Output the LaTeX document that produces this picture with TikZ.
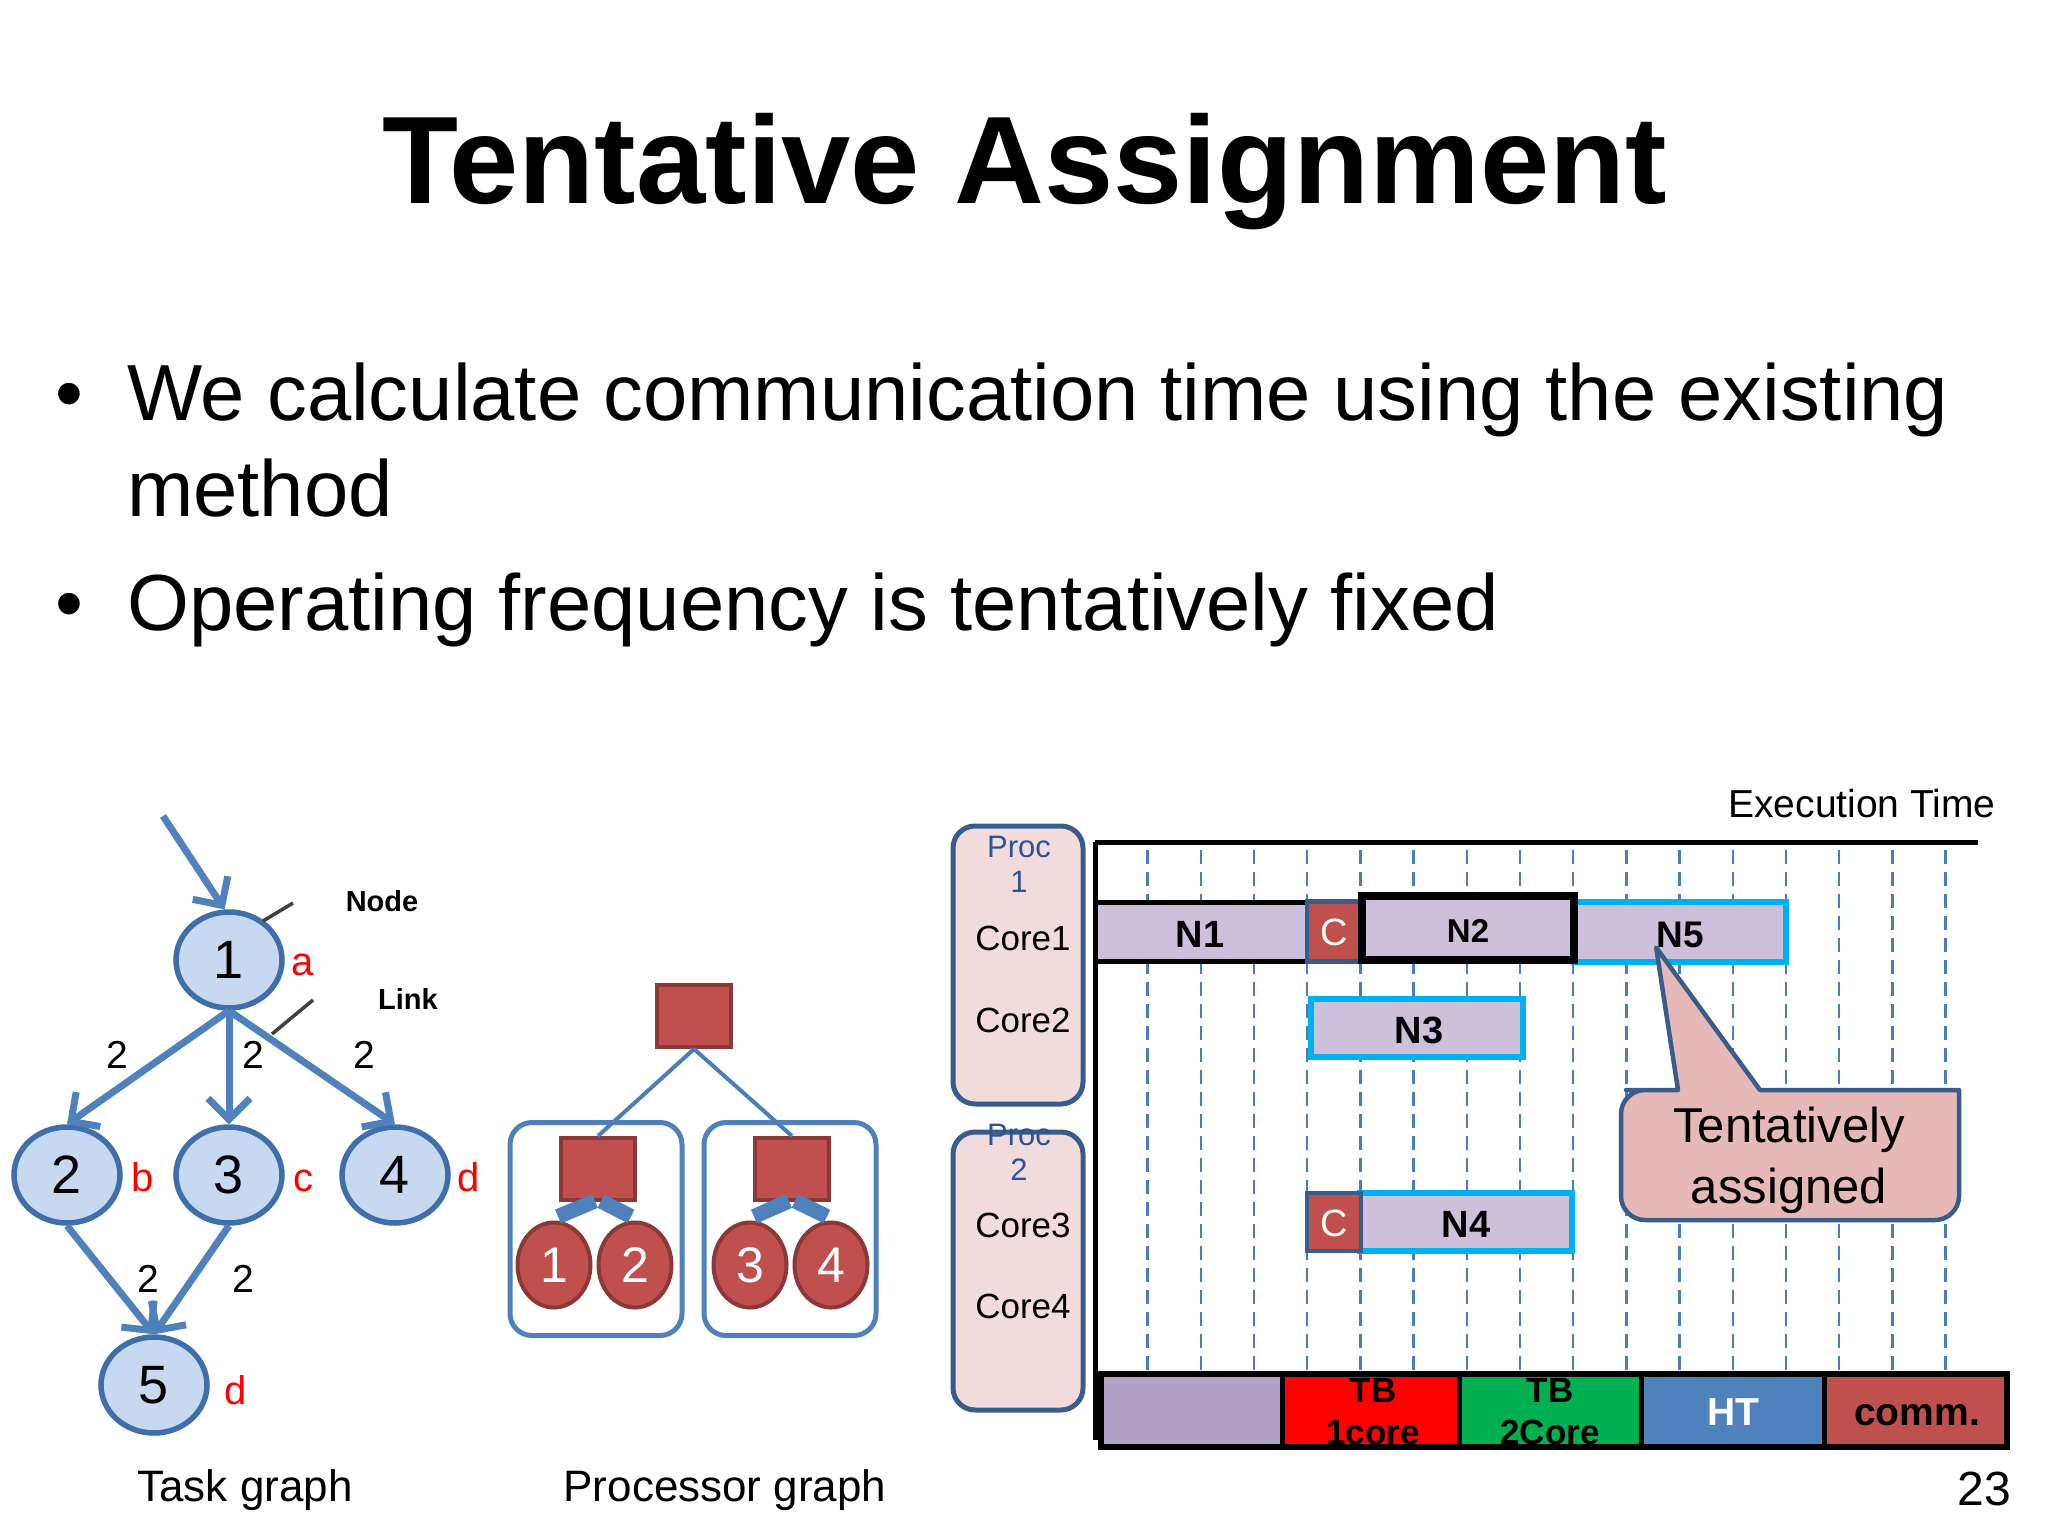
\documentclass[tikz,border=0pt]{standalone}
\usepackage{fontspec}
\setmainfont{Liberation Sans}
\usetikzlibrary{arrows.meta,shapes.geometric}
\definecolor{nodefill}{HTML}{C6D9F1}
\definecolor{nodeborder}{HTML}{3F6FAA}
\definecolor{arrowblue}{HTML}{4F81BD}
\definecolor{procred}{HTML}{C0504D}
\definecolor{procredborder}{HTML}{8C3836}
\definecolor{pinkfill}{HTML}{F2DCDB}
\definecolor{darkblue}{HTML}{385D8A}
\definecolor{lavender}{HTML}{CCC0DA}
\definecolor{legendlav}{HTML}{B3A2C7}
\definecolor{cyanb}{HTML}{00B0F0}
\definecolor{callfill}{HTML}{E6B9B8}
\definecolor{tbgreen}{HTML}{00B050}
\definecolor{htblue}{HTML}{4F81BD}
\definecolor{proctext}{HTML}{2A5594}
\definecolor{dashblue}{HTML}{4A7EBB}
\definecolor{grayline}{HTML}{404040}
\newcommand{\fsz}[1]{\fontsize{#1}{#1}\selectfont}
\tikzset{
  txt/.style={inner sep=0pt, anchor=base},
  tnode/.style={ellipse, draw=nodeborder, fill=nodefill, line width=5.5pt,
    minimum width=106pt, minimum height=96pt, inner sep=0pt, font=\fsz{54}},
  tarrow/.style={draw=arrowblue, line width=7pt, -{Straight Barb[length=21pt,width=42pt]}},
  redlbl/.style={txt, text=red, font=\fsz{40}},
  edgelbl/.style={txt, font=\fsz{39}},
  psq/.style={rectangle, draw=procredborder, fill=procred, line width=4pt,
    minimum width=74pt, minimum height=62pt, inner sep=0pt},
  pcirc/.style={ellipse, draw=procredborder, fill=procred, line width=4pt,
    minimum width=73pt, minimum height=85pt, inner sep=0pt, text=white, font=\fsz{50}},
  pbox/.style={rectangle, draw=arrowblue, line width=5pt, rounded corners=22pt, fill=white,
    minimum width=172pt, minimum height=213pt, inner sep=0pt},
  pline/.style={draw=dashblue, line width=4pt},
  pbar/.style={draw=arrowblue, line width=15pt},
  procbox/.style={rectangle, draw=darkblue, fill=pinkfill, line width=5pt, rounded corners=22pt,
    minimum width=130pt, minimum height=278pt, inner sep=0pt},
  bar/.style={rectangle, fill=lavender, inner sep=0pt, font=\bfseries\fsz{37}},
  cbox/.style={rectangle, fill=procred, draw=darkblue, line width=4.5pt, inner sep=0pt,
    minimum width=54pt, minimum height=60pt, text=white, font=\fsz{38}},
  gridline/.style={draw=dashblue, line width=2.5pt, dash pattern=on 14pt off 8pt},
  legbox/.style={rectangle, inner sep=0pt, minimum width=180pt, minimum height=73pt},
}
\begin{document}
\begin{tikzpicture}[x=1pt,y=-1pt]
\useasboundingbox[fill=white] (0,0) rectangle (2048,1536);

% ---------- Title and bullets ----------
\node[txt, font=\bfseries\fsz{124.5}] (title) at (1025,203) {Tentative Assignment};
\node[txt, anchor=base west, font=\fsz{79.6}] (b1) at (55,420) {•};
\node[txt, anchor=base west, font=\fsz{79.6}] (l1) at (127,420) {We calculate communication time using the existing};
\node[txt, anchor=base west, font=\fsz{79.6}] (l2) at (127,516) {method};
\node[txt, anchor=base west, font=\fsz{79.6}] (b2) at (55,630) {•};
\node[txt, anchor=base west, font=\fsz{79.6}] (l3) at (127,630) {Operating frequency is tentatively fixed};

% ---------- Task graph ----------
\node[tnode] (n1) at (229,960) {1};
\node[tnode] (n2) at (67,1175) {2};
\node[tnode] (n3) at (229,1175) {3};
\node[tnode] (n4) at (395,1175) {4};
\node[tnode] (n5) at (154,1385) {5};
\coordinate (start) at (163,816);
\draw[tarrow] (start) -- (n1.95);
\draw[tarrow] (n1.south) -- (n2.north);
\draw[tarrow] (n1.south) -- (n3.north);
\draw[tarrow] (n1.south) -- (n4.north);
\draw[tarrow] (n2.south) -- (n5.north);
\draw[tarrow] (n3.south) -- (n5.north);
\node[redlbl] (la) at (303,975) {a};
\node[redlbl] (lb) at (143,1191) {b};
\node[redlbl] (lc) at (303,1191) {c};
\node[redlbl] (ld) at (469,1191) {d};
\node[redlbl] (le) at (236,1404) {d};
\node[edgelbl] (e12) at (117,1068) {2};
\node[edgelbl] (e13) at (253,1068) {2};
\node[edgelbl] (e14) at (364,1068) {2};
\node[edgelbl] (e25) at (148,1292) {2};
\node[edgelbl] (e35) at (243,1292) {2};
\node[txt, font=\bfseries\fsz{29}] (nodelbl) at (382,911) {Node};
\node[txt, font=\bfseries\fsz{29}] (linklbl) at (408,1009) {Link};
\coordinate (nl1) at (263,921); \coordinate (nl2) at (293,903);
\coordinate (ll1) at (272,1034); \coordinate (ll2) at (313,1000);
\draw[grayline, line width=3.5pt] (nl1) -- (nl2);
\draw[grayline, line width=3.5pt] (ll1) -- (ll2);
\node[txt, font=\fsz{44}] (tg) at (245,1501) {Task graph};

% ---------- Processor graph ----------
\node[pbox] (lbox) at (596,1229) {};
\node[pbox] (rbox) at (790,1229) {};
\node[psq] (top) at (694,1016) {};
\node[psq] (lsq) at (598,1169) {};
\node[psq] (rsq) at (792,1169) {};
\draw[pline] (top.south) -- (lsq.north);
\draw[pline] (top.south) -- (rsq.north);
\node[pcirc] (c1) at (554,1265) {1};
\node[pcirc] (c2) at (635,1265) {2};
\node[pcirc] (c3) at (750,1265) {3};
\node[pcirc] (c4) at (831,1265) {4};
\draw[pbar] ([xshift=4pt,yshift=4pt]c1.north) -- ([xshift=-3pt,yshift=1pt]lsq.south);
\draw[pbar] ([xshift=3pt,yshift=1pt]lsq.south) -- ([xshift=-4pt,yshift=4pt]c2.north);
\draw[pbar] ([xshift=4pt,yshift=4pt]c3.north) -- ([xshift=-3pt,yshift=1pt]rsq.south);
\draw[pbar] ([xshift=3pt,yshift=1pt]rsq.south) -- ([xshift=-4pt,yshift=4pt]c4.north);
\node[txt, font=\fsz{44}] (pg) at (725,1501) {Processor graph};

% ---------- Gantt chart ----------
\node[procbox] (p1) at (1018,965) {};
\node[procbox] (p2) at (1018,1271) {};
\node[txt, text=proctext, font=\fsz{31}] (p1a) at (1019,857) {Proc};
\node[txt, text=proctext, font=\fsz{31}] (p1b) at (1019,892) {1};
\node[txt, text=proctext, font=\fsz{31}] (p2a) at (1019,1145) {Proc};
\node[txt, text=proctext, font=\fsz{31}] (p2b) at (1019,1180) {2};
\node[txt, font=\fsz{35}] (core1) at (1023,950) {Core1};
\node[txt, font=\fsz{35}] (core2) at (1023,1032) {Core2};
\node[txt, font=\fsz{35}] (core3) at (1023,1237) {Core3};
\node[txt, font=\fsz{35}] (core4) at (1023,1318) {Core4};

\foreach \i in {1,...,16} {
  \draw[gridline] ({1094.4+53.2*\i},850) -- ({1094.4+53.2*\i},1372);
}
\node[txt, anchor=base, font=\fsz{39}] (exec) at (1862,817) {Execution Time};
\coordinate (ax0) at (1095,1440);
\coordinate (ax1) at (1095,842);
\coordinate (ax2) at (1978,842);
\draw[line width=5pt] (ax0) -- (ax1);
\draw[line width=5pt] (ax1) -- (ax2);

% row 1
\node[bar, draw=black, line width=5pt, minimum width=212pt, minimum height=59pt] (N1) at (1201,931.5) {};
\node[txt, font=\bfseries\fsz{38}] at (1200,947) {N1};
\node[bar, draw=cyanb, line width=5.5pt, minimum width=212pt, minimum height=60pt] (N5) at (1680,932) {};
\node[txt, font=\bfseries\fsz{37}] (N5t) at (1680,947) {N5};
\node[cbox] (C1) at (1334,931.5) {};
\node[txt, text=white, font=\fsz{38}] at (1334,945) {C};
\node[bar, draw=black, line width=8pt, minimum width=212pt, minimum height=64pt] (N2) at (1468,928) {};
\node[txt, font=\bfseries\fsz{33}] at (1468,942) {N2};
% row 2
\node[bar, draw=cyanb, line width=5.5pt, minimum width=212pt, minimum height=58pt] (N3) at (1417,1028) {};
\node[txt, font=\bfseries\fsz{38}] at (1419,1043) {N3};
% row 3
\node[bar, draw=cyanb, line width=5.5pt, minimum width=212pt, minimum height=58pt] (N4) at (1466,1222) {};
\node[txt, font=\bfseries\fsz{38}] at (1466,1237) {N4};
\node[cbox, minimum height=58pt] (C2) at (1334,1222) {};
\node[txt, text=white, font=\fsz{38}] at (1334,1236) {C};

% callout
\draw[draw=darkblue, fill=callfill, line width=4.5pt, line join=round]
  (1678,1090) -- (N5t.south west) -- (1760,1090) -- (1959,1090) [rounded corners=24pt]
  -- (1959,1220) -- (1621,1220) -- (1621,1090) -- (1650,1090) [sharp corners] -- cycle;
\node[txt, font=\fsz{49}] (tent1) at (1789,1142) {Tentatively};
\node[txt, font=\fsz{49}] (tent2) at (1789,1203) {assigned};

% legend bar
\node[legbox, fill=legendlav, minimum width=183pt] (lg1) at (1191,1410) {};
\node[legbox, fill=red, minimum width=176pt] (lg2) at (1371,1410) {};
\node[legbox, fill=tbgreen, minimum width=183pt] (lg3) at (1550,1410) {};
\node[legbox, fill=htblue, minimum width=183pt] (lg4) at (1733,1410) {};
\node[legbox, fill=procred, minimum width=184pt] (lg5) at (1916,1410) {};
\node[txt, font=\bfseries\fsz{35}] at (1373,1402) {TB};
\node[txt, font=\bfseries\fsz{35}] at (1373,1444) {1core};
\node[txt, font=\bfseries\fsz{35}] at (1550,1402) {TB};
\node[txt, font=\bfseries\fsz{35}] at (1550,1444) {2Core};
\node[txt, text=white, font=\bfseries\fsz{39}] at (1733,1425) {HT};
\node[txt, font=\bfseries\fsz{39}] at (1917,1425) {comm.};
\draw[line width=6pt] (1101,1374) rectangle (2007,1447);
\draw[line width=5pt] (lg1.north east) -- (lg1.south east);
\draw[line width=5pt] (lg2.north east) -- (lg2.south east);
\draw[line width=5pt] (lg3.north east) -- (lg3.south east);
\draw[line width=5pt] (lg4.north east) -- (lg4.south east);

\node[txt, anchor=base east, font=\fsz{48}] (pnum) at (2011,1505) {23};
\end{tikzpicture}
\end{document}
